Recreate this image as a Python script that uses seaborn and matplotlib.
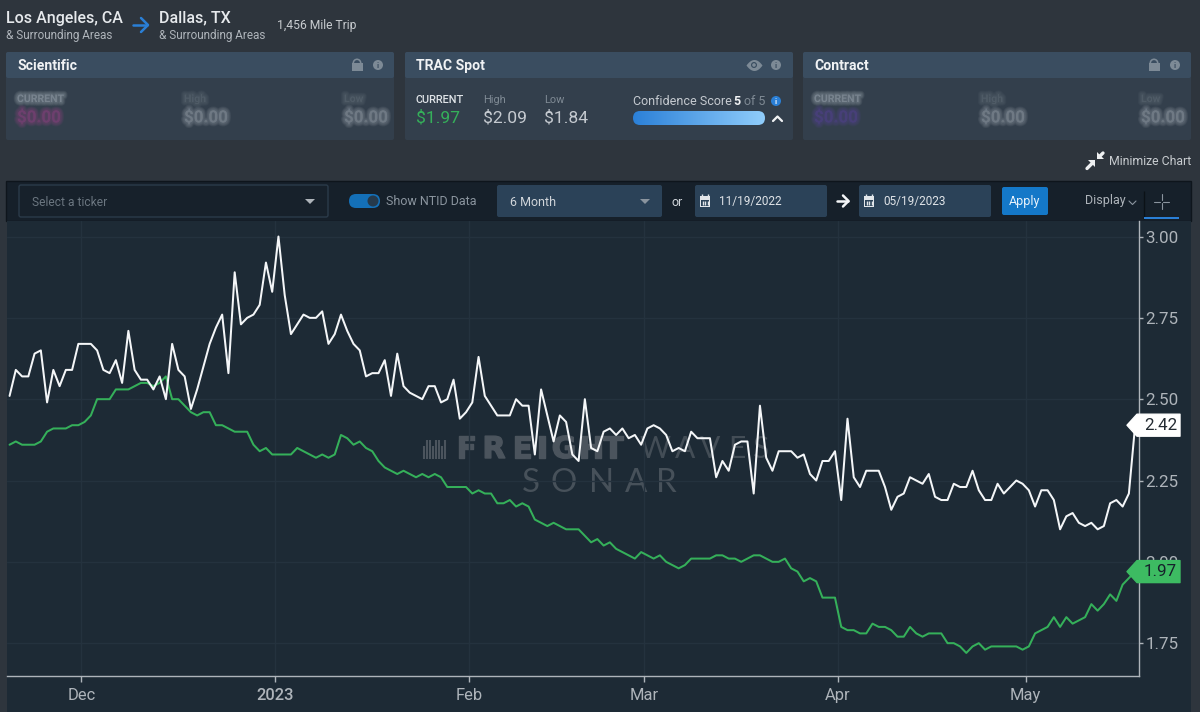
import numpy as np
import pandas as pd
import matplotlib
matplotlib.use("Agg")
import matplotlib.pyplot as plt
import matplotlib.dates as mdates
import matplotlib.patheffects as pe
from matplotlib.patches import FancyBboxPatch, Rectangle, Polygon, Circle, Wedge
from matplotlib.ticker import FixedLocator, FixedFormatter
import seaborn as sns

# ---------- data ----------
start_date = "2022-11-19 12:00"
ntid_spot = [
    2.51, 2.59, 2.57, 2.57, 2.64, 2.65, 2.49, 2.59, 2.54, 2.59, 2.59, 2.67, 2.67, 2.67, 2.65, 2.59,
    2.58, 2.62, 2.55, 2.71, 2.59, 2.56, 2.56, 2.53, 2.57, 2.50, 2.67, 2.59, 2.57, 2.47, 2.53, 2.60,
    2.67, 2.72, 2.76, 2.58, 2.89, 2.73, 2.75, 2.76, 2.79, 2.92, 2.83, 3.00, 2.82, 2.70, 2.73, 2.76,
    2.75, 2.75, 2.77, 2.67, 2.70, 2.76, 2.71, 2.67, 2.65, 2.57, 2.58, 2.58, 2.62, 2.51, 2.64, 2.54,
    2.52, 2.51, 2.50, 2.54, 2.54, 2.49, 2.50, 2.56, 2.44, 2.46, 2.49, 2.63, 2.51, 2.48, 2.45, 2.45,
    2.45, 2.50, 2.48, 2.48, 2.33, 2.53, 2.45, 2.37, 2.45, 2.43, 2.33, 2.31, 2.50, 2.35, 2.34, 2.40,
    2.41, 2.39, 2.41, 2.38, 2.39, 2.36, 2.41, 2.42, 2.41, 2.39, 2.34, 2.35, 2.34, 2.40, 2.38, 2.38,
    2.38, 2.26, 2.31, 2.28, 2.36, 2.37, 2.37, 2.21, 2.48, 2.32, 2.28, 2.34, 2.34, 2.34, 2.32, 2.33,
    2.27, 2.25, 2.31, 2.31, 2.34, 2.19, 2.44, 2.26, 2.23, 2.28, 2.28, 2.28, 2.23, 2.16, 2.20, 2.21,
    2.26, 2.25, 2.24, 2.27, 2.20, 2.19, 2.19, 2.24, 2.23, 2.23, 2.28, 2.22, 2.19, 2.19, 2.24, 2.21,
    2.23, 2.25, 2.24, 2.22, 2.17, 2.22, 2.22, 2.19, 2.10, 2.14, 2.15, 2.12, 2.11, 2.12, 2.10, 2.11,
    2.18, 2.19, 2.17, 2.21, 2.42,
]
trac_spot = [
    2.36, 2.37, 2.36, 2.36, 2.36, 2.37, 2.40, 2.41, 2.41, 2.41, 2.42, 2.42, 2.43, 2.45, 2.50, 2.50,
    2.50, 2.53, 2.53, 2.53, 2.54, 2.55, 2.55, 2.54, 2.55, 2.57, 2.50, 2.50, 2.48, 2.46, 2.45, 2.46,
    2.46, 2.42, 2.42, 2.41, 2.40, 2.40, 2.40, 2.36, 2.34, 2.35, 2.33, 2.33, 2.33, 2.33, 2.35, 2.34,
    2.33, 2.32, 2.33, 2.32, 2.33, 2.39, 2.38, 2.36, 2.37, 2.35, 2.34, 2.31, 2.29, 2.28, 2.27, 2.28,
    2.27, 2.26, 2.27, 2.26, 2.27, 2.26, 2.23, 2.23, 2.23, 2.23, 2.21, 2.22, 2.21, 2.21, 2.18, 2.18,
    2.19, 2.17, 2.18, 2.17, 2.13, 2.12, 2.11, 2.12, 2.11, 2.10, 2.10, 2.10, 2.08, 2.06, 2.07, 2.05,
    2.06, 2.04, 2.03, 2.02, 2.01, 2.03, 2.02, 2.01, 2.02, 2.00, 1.99, 1.98, 1.99, 2.01, 2.01, 2.01,
    2.01, 2.02, 2.02, 2.01, 2.01, 2.00, 2.01, 2.02, 2.02, 2.01, 2.00, 2.00, 2.01, 1.98, 1.97, 1.94,
    1.95, 1.94, 1.89, 1.89, 1.89, 1.80, 1.79, 1.79, 1.78, 1.78, 1.81, 1.80, 1.80, 1.79, 1.77, 1.77,
    1.80, 1.78, 1.77, 1.78, 1.78, 1.78, 1.75, 1.75, 1.74, 1.72, 1.74, 1.75, 1.73, 1.74, 1.74, 1.74,
    1.74, 1.74, 1.73, 1.74, 1.78, 1.79, 1.80, 1.83, 1.80, 1.83, 1.81, 1.82, 1.83, 1.87, 1.85, 1.87,
    1.90, 1.88, 1.93, 1.95, 1.97,
]
y_ticks = [1.75, 2.00, 2.25, 2.50, 2.75, 3.00]
x_tick_dates = ["2022-12-01", "2023-01-01", "2023-02-01", "2023-03-01", "2023-04-01", "2023-05-01"]
x_tick_labels = ["Dec", "2023", "Feb", "Mar", "Apr", "May"]

# ---------- colours ----------
BG = "#2e353d"
PLOT = "#1d2a35"
GRID = "#24323e"
HEAD = "#3a4d60"
BODY = "#333f4c"
TOOL = "#16202a"
FIELD = "#2b4258"
GREEN = "#35b05a"
BLUE = "#2a7fd6"
AXCOL = "#aeb4ba"

sns.set_theme(style="dark", rc={"axes.grid": False})
plt.rcParams["font.family"] = ["Roboto", "DejaVu Sans"]

W, H = 1200, 712
fig = plt.figure(figsize=(W / 100, H / 100), dpi=100, facecolor=BG)


def px_axes(z):
    a = fig.add_axes([0, 0, 1, 1], zorder=z)
    a.set_xlim(0, W)
    a.set_ylim(H, 0)
    a.axis("off")
    a.patch.set_alpha(0)
    return a


bg = px_axes(0)
fg = px_axes(2)


def pt(px):
    return px * 0.72


def T(a, x, y, s, size, color="#d5d9dd", weight="normal", ha="left", **kw):
    return a.text(x, y, s, fontsize=pt(size), color=color, fontweight=weight, ha=ha, va="center", **kw)


def box(a, x0, y0, x1, y1, fc, ec="none", r=3, lw=1, z=1):
    p = FancyBboxPatch((x0 + r, y0 + r), x1 - x0 - 2 * r, y1 - y0 - 2 * r,
                       boxstyle=f"round,pad={r},rounding_size={r}", fc=fc, ec=ec, lw=lw, zorder=z)
    a.add_patch(p)
    return p


def info(a, x, y, fc="#7d8a96", tc="#333f4c"):
    a.add_patch(Circle((x, y), 5, fc=fc, ec="none", zorder=3))
    T(a, x, y, "i", 8, color=tc, weight="bold", ha="center", zorder=4)


def lock(a, x, y):
    c = "#7d8a96"
    a.add_patch(Rectangle((x - 5.5, y - 2), 11, 8, fc=c, ec="none", zorder=3))
    a.add_patch(Wedge((x, y - 2), 4.5, 180, 360, width=1.6, fc=c, ec="none", zorder=3))


def blurred(a, x, y, s, size, color):
    t = T(a, x, y, s, size, color=color, weight="bold", alpha=0.15, zorder=3)
    t.set_path_effects([pe.Stroke(linewidth=w, foreground=color, alpha=0.1) for w in (5.5, 4.5, 3.5, 2.5, 1.5)]
                       + [pe.Normal()])


def calendar(a, x, y):
    c = "#e2e6ea"
    a.add_patch(Rectangle((x - 5, y - 5), 10, 11, fc=c, ec="none", zorder=3))
    a.add_patch(Rectangle((x - 4, y - 1.5), 8, 6.5, fc=FIELD, ec="none", zorder=4))
    a.vlines([x - 3, x + 3], y - 7, y - 4, color=c, lw=1, zorder=4)
    for dx in (-2.5, 0, 2.5):
        a.vlines(x + dx, y - 0.5, y + 4, color=c, lw=1, zorder=5)


# ---------- header ----------
T(bg, 6, 18, "Los Angeles, CA", 16, color="#e6e9ec", weight="medium")
T(bg, 6, 35.5, "& Surrounding Areas", 11.8, color="#aeb4ba")
T(bg, 159, 18, "Dallas, TX", 16, color="#e6e9ec", weight="medium")
T(bg, 159, 35.5, "& Surrounding Areas", 11.8, color="#aeb4ba")
T(bg, 277, 25.5, "1,456 Mile Trip", 12.1, color="#c8ccd0")
bg.add_patch(Rectangle((0, 41), W, 11, fc=BG, ec="none", zorder=1))
bg.plot([133, 147], [25, 25], color=BLUE, lw=1.8, zorder=2, solid_capstyle="round")
bg.plot([141, 148, 141], [18, 25, 32], color=BLUE, lw=1.8, zorder=2, solid_capstyle="round")

# ---------- cards ----------
for x0, title in [(6, "Scientific"), (405, "TRAC Spot"), (803, "Contract")]:
    box(bg, x0, 52, x0 + 388, 140, BODY, r=2)
    box(bg, x0, 52, x0 + 388, 78, HEAD, r=2, z=2)
    T(bg, x0 + 11, 66, title, 14, color="#f0f2f4", weight="bold", zorder=3)
lock(bg, 357, 65)
info(bg, 378, 65, tc=HEAD)
lock(bg, 1154, 65)
info(bg, 1175, 65, tc=HEAD)
info(bg, 776, 65, tc=HEAD)
# eye icon
eye_t = np.linspace(-1, 1, 30)
bg.fill_between(754 + 8 * eye_t, 65 - 5.5 * (1 - eye_t ** 2), 65 + 5.5 * (1 - eye_t ** 2), color="#7d8a96", zorder=3, lw=0)
bg.add_patch(Circle((754, 65), 3, fc=HEAD, ec="none", zorder=4))
bg.add_patch(Circle((754, 65), 1.8, fc="#7d8a96", ec="none", zorder=5))

for x0, col in [(6, "#8a4580"), (803, "#54408f")]:
    blurred(bg, x0 + 11, 99, "CURRENT", 10.5, "#98a3ad")
    blurred(bg, x0 + 11, 117.5, "$0.00", 17, col)
    blurred(bg, x0 + 178, 99, "High", 10.5, "#5f6b76")
    blurred(bg, x0 + 178, 117.5, "$0.00", 17, "#8c96a0")
    blurred(bg, x0 + 338, 99, "Low", 10.5, "#5f6b76")
    blurred(bg, x0 + 338, 117.5, "$0.00", 17, "#8c96a0")

T(bg, 416, 100, "CURRENT", 11, color="#e0e4e8", weight="medium", zorder=3)
T(bg, 416, 118, "$1.97", 17.5, color=GREEN, zorder=3)
T(bg, 483, 100, "High", 11, color="#7f8a94", zorder=3)
T(bg, 483, 118, "$2.09", 17.5, color="#c5cad0", zorder=3)
T(bg, 544, 100, "Low", 11, color="#7f8a94", zorder=3)
T(bg, 544, 118, "$1.84", 17.5, color="#c5cad0", zorder=3)
T(bg, 633, 101.5, "Confidence Score", 12.5, color="#c5cad0", zorder=3)
T(bg, 733, 101.5, "5", 12.5, color="#f0f2f4", weight="bold", zorder=3)
T(bg, 744, 101.5, "of 5", 12.5, color="#7f8a94", zorder=3)
info(bg, 776, 101, fc=BLUE, tc="#e8f2fb")
grad = np.linspace(0, 1, 256)[None, :]
cmap = matplotlib.colors.LinearSegmentedColormap.from_list("conf", ["#2b80d8", "#90cdfb"])
img = bg.imshow(grad, extent=(633, 765, 125, 111), cmap=cmap, aspect="auto", zorder=3)
clip = box(bg, 633, 111, 765, 125, "none", r=7, z=2)
img.set_clip_path(clip)
bg.set_xlim(0, W)
bg.set_ylim(H, 0)
bg.plot([773, 777.5, 782], [121, 116.5, 121], color="#f0f2f4", lw=1.6, zorder=3)

# ---------- minimise ----------
T(bg, 1109, 161.5, "Minimize Chart", 12.2, color="#c8ccd0")
ICON = "#eef0f2"
bg.add_patch(Polygon([(1095, 160), (1095, 167), (1088, 160)], fc=ICON, ec="none", zorder=3))
bg.plot([1087, 1092], [168.5, 163.5], color=ICON, lw=2.4, zorder=3)
bg.add_patch(Polygon([(1097, 159), (1097, 152), (1104, 159)], fc=ICON, ec="none", zorder=3))
bg.plot([1103, 1100], [153, 156], color=ICON, lw=2.4, zorder=3)

# ---------- toolbar ----------
bg.add_patch(Rectangle((6, 181), 1185, 40, fc=TOOL, ec="#0e151c", lw=1, zorder=1))
box(bg, 19, 185, 328, 217, "#17212b", ec="#2b3b4a", r=2, z=2)
T(bg, 32, 202, "Select a ticker", 12, color="#6b7680", zorder=3)
bg.add_patch(Polygon([(305, 199), (315, 199), (310, 204)], fc="#aeb4ba", ec="none", zorder=3))
box(bg, 349, 194, 380, 208, "#1470b8", r=7, z=2)
bg.add_patch(Circle((373, 201), 5.5, fc="#263a4c", ec="none", zorder=3))
T(bg, 386, 201.5, "Show NTID Data", 12.5, color="#8a949e", zorder=3)
box(bg, 497, 185, 662, 217, FIELD, r=2, z=2)
T(bg, 510, 202, "6 Month", 12.5, color="#d0d5da", zorder=3)
bg.add_patch(Polygon([(640, 199), (650, 199), (645, 204)], fc="#8a949e", ec="none", zorder=3))
T(bg, 672, 202, "or", 12.5, color="#d0d5da", zorder=3)
box(bg, 695, 185, 827, 217, FIELD, r=2, z=2)
calendar(bg, 705, 201)
T(bg, 719, 201, "11/19/2022", 11.8, color="#e0e4e8", zorder=3)
bg.plot([837, 848], [201, 201], color="#f4f6f8", lw=1.8, zorder=3)
bg.plot([843, 848.5, 843], [195.5, 201, 206.5], color="#f4f6f8", lw=1.8, zorder=3)
box(bg, 859, 185, 991, 217, FIELD, r=2, z=2)
calendar(bg, 869, 201)
T(bg, 883, 201, "05/19/2023", 11.8, color="#e0e4e8", zorder=3)
box(bg, 1002, 187, 1048, 215, "#1478c8", r=2, z=2)
T(bg, 1025, 201.5, "Apply", 12.5, color="#e8f2fb", ha="center", zorder=3)
T(bg, 1085, 200.5, "Display", 12.5, color="#aeb4ba", zorder=3)
bg.plot([1129, 1132.5, 1136], [201, 204.5, 201], color="#8a949e", lw=0.8, zorder=3)
bg.vlines(1144, 191, 219, color="#0b1116", lw=1, zorder=3)
CROSS = "#8a949e"
bg.plot([1154, 1160], [201.5, 201.5], color=CROSS, lw=0.8, zorder=3)
bg.plot([1163, 1169], [201.5, 201.5], color=CROSS, lw=0.8, zorder=3)
bg.plot([1161.5, 1161.5], [194, 200], color=CROSS, lw=0.8, zorder=3)
bg.plot([1161.5, 1161.5], [203, 209], color=CROSS, lw=0.8, zorder=3)
bg.add_patch(Rectangle((1144, 217), 35, 2.2, fc=BLUE, ec="none", zorder=3))

# ---------- chart background ----------
bg.add_patch(Rectangle((6.5, 221), 1184.5, H - 221, fc=PLOT, ec="none", zorder=1))

# ---------- watermark ----------
wm = "#4b545d"
for x, ch in zip([466, 494, 522, 542, 564, 591, 613], "FREIGHT"):
    t = T(bg, x, 449.5, ch, 30, color=wm, weight="bold", ha="center", family="DejaVu Sans", zorder=2)
    t.set_path_effects([pe.withStroke(linewidth=1.0, foreground=wm)])
for x, ch in zip([655, 685, 710, 737, 760], "WAVES"):
    T(bg, x, 449.5, ch, 30, color="#434d56", ha="center", family="Lato", zorder=2)
for x, ch in zip([531, 564, 602, 636, 666], "SONAR"):
    T(bg, x, 482.5, ch, 33, color="#47515a", ha="center", family="Lato", zorder=2)
for i, x in enumerate(np.arange(424, 447, 3.0)):
    top = 440 if i % 3 else 446
    bg.vlines(x, top, 459, color=wm, lw=1.5, zorder=2)

# ---------- main chart ----------
L, R, TOP, BOTTOM = 7, 1138.7, 221, 675.7
ax = fig.add_axes([L / W, 1 - BOTTOM / H, (R - L) / W, (BOTTOM - TOP) / H], zorder=1)
ax.patch.set_alpha(0)

dates = pd.date_range(start_date, periods=len(ntid_spot), freq="D")
df = pd.concat([
    pd.DataFrame({"date": dates, "rate": trac_spot, "series": "TRAC Spot"}),
    pd.DataFrame({"date": dates, "rate": ntid_spot, "series": "NTID"}),
])
sns.lineplot(data=df, x="date", y="rate", hue="series", palette={"TRAC Spot": GREEN, "NTID": "#f4f6f8"},
             hue_order=["TRAC Spot", "NTID"], lw=1.45, legend=False, ax=ax, errorbar=None, estimator=None)

dec1 = mdates.date2num(pd.Timestamp("2022-12-01"))
ax.set_xlim(dec1 - 11.91, dec1 + 169.07)
ax.set_ylim(1.65, 3.0477)
ax.set_xlabel("")
ax.set_ylabel("")
ax.xaxis.set_major_locator(FixedLocator(mdates.date2num(pd.to_datetime(x_tick_dates))))
ax.xaxis.set_major_formatter(FixedFormatter(x_tick_labels))
ax.yaxis.tick_right()
ax.set_yticks(y_ticks, [f"{v:.2f}" for v in y_ticks])
ax.grid(True, color=GRID, lw=1)
ax.set_axisbelow(True)
ax.tick_params(axis="x", colors=AXCOL, length=4, width=1, labelsize=pt(16.5), pad=5, bottom=True)
ax.tick_params(axis="y", colors=AXCOL, length=3, width=1, labelsize=pt(17), pad=2, right=True, left=False)
for lab in ax.get_xticklabels():
    if lab.get_text() == "2023":
        lab.set_fontweight("medium")
for s in ("top", "left"):
    ax.spines[s].set_visible(False)
for s in ("right", "bottom"):
    ax.spines[s].set_color(AXCOL)
    ax.spines[s].set_linewidth(1)

# ---------- end-of-line flags ----------
fig.canvas.draw()
for series, col, tcol in [(ntid_spot, "#ffffff", "#222a31"), (trac_spot, "#3dbb62", "#16222b")]:
    disp = ax.transData.transform((mdates.date2num(dates[-1]), series[-1]))
    _, yc = fg.transData.inverted().transform(disp)
    fg.add_patch(Polygon([(1127, yc), (1137, yc - 11), (1180, yc - 11), (1180, yc + 11), (1137, yc + 11)],
                         closed=True, fc=col, ec=col, lw=1, joinstyle="round", zorder=2))
    T(fg, 1160.5, yc, f"{series[-1]:.2f}", 17, color=tcol, ha="center", zorder=3)

fig.savefig("out.png", dpi=100, facecolor=BG)
